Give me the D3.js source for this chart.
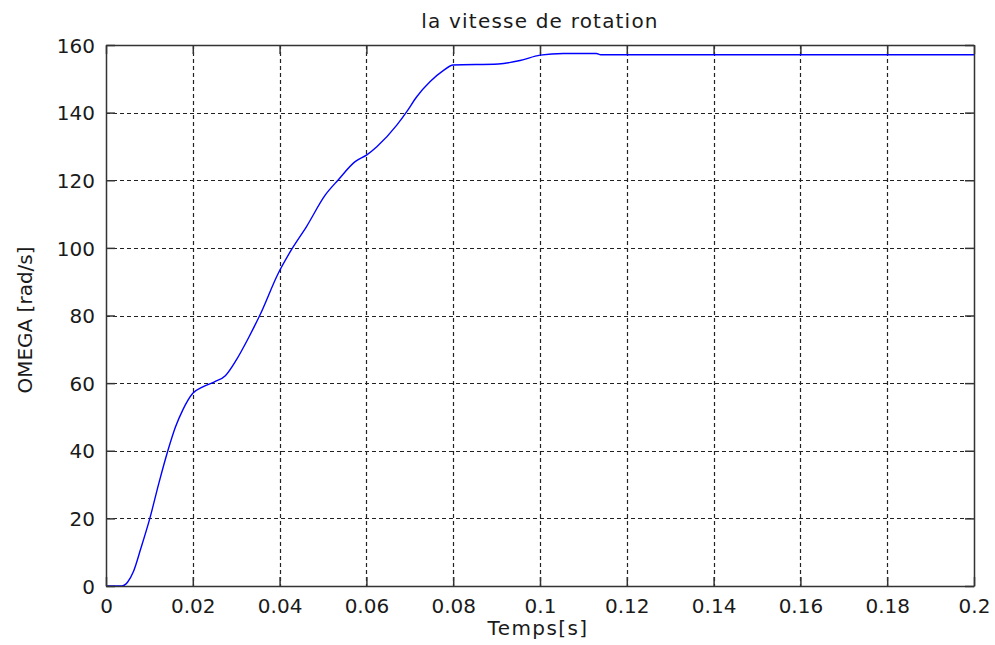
<!DOCTYPE html>
<html><head><meta charset="utf-8">
<script src="https://cdn.jsdelivr.net/npm/d3@7"></script>
<style>body{margin:0;background:#fff}svg{display:block}</style>
</head><body>
<script>
const timeS = [0, 0.0036, 0.0050, 0.0063, 0.0080, 0.0101, 0.0122, 0.0143, 0.0160, 0.0177, 0.0200, 0.0223, 0.0250, 0.0275, 0.0300, 0.0330, 0.0355, 0.0397, 0.0428, 0.0462, 0.0505, 0.0535, 0.0574, 0.0601, 0.0624, 0.0670, 0.0693, 0.0716, 0.0747, 0.0777, 0.0800, 0.0904, 0.0954, 0.1000, 0.1054, 0.1130, 0.1140, 0.2];
const omega = [0, 0, 1.2, 4.2, 11.0, 20.0, 30.5, 40.2, 47.0, 52.1, 57.0, 58.9, 60.4, 62.2, 66.8, 73.8, 80.2, 92.5, 99.6, 106.3, 115.6, 120.1, 125.5, 127.5, 129.9, 136.3, 140.3, 144.7, 149.2, 152.4, 154.1, 154.4, 155.4, 157.0, 157.5, 157.5, 157.1, 157.1];
const xTicks = [0, 0.02, 0.04, 0.06, 0.08, 0.1, 0.12, 0.14, 0.16, 0.18, 0.2];
const yTicks = [0, 20, 40, 60, 80, 100, 120, 140, 160];
const titleText = "la vitesse de rotation";
const xLabel = "Temps[s]";
const yLabel = "OMEGA [rad/s]";

const W = 995, H = 645;
const L = 106, R = 974, T = 45, B = 586;
const svg = d3.select("body").append("svg").attr("width", W).attr("height", H);
const x = d3.scaleLinear().domain([0, 0.2]).range([L, R]);
const y = d3.scaleLinear().domain([0, 160]).range([B, T]);
const font = "'DejaVu Sans', sans-serif";
const ink = "#1a1a1a";

// grid
const g = svg.append("g");
g.selectAll(".vg").data(xTicks.slice(1, -1)).enter().append("line")
  .attr("x1", d => Math.round(x(d)) + 0.5).attr("x2", d => Math.round(x(d)) + 0.5)
  .attr("y1", T).attr("y2", B)
  .attr("stroke", "#222").attr("stroke-width", 1.2).attr("stroke-dasharray", "4,3");
g.selectAll(".hg").data(yTicks.slice(1, -1)).enter().append("line")
  .attr("y1", d => Math.round(y(d)) + 0.5).attr("y2", d => Math.round(y(d)) + 0.5)
  .attr("x1", L).attr("x2", R)
  .attr("stroke", "#222").attr("stroke-width", 1.2).attr("stroke-dasharray", "4,3");

// curve
const pts = timeS.map((t, i) => [t, omega[i]]);
svg.append("path").datum(pts)
  .attr("d", d3.line().x(d => x(d[0])).y(d => y(d[1])).curve(d3.curveMonotoneX))
  .attr("fill", "none").attr("stroke", "#0000ff").attr("stroke-width", 1.4);

// axes (inward ticks, all four sides)
const tl = 9;
const axB = svg.append("g").attr("transform", `translate(0,${B})`)
  .call(d3.axisBottom(x).tickValues(xTicks).tickFormat(d3.format("~g")).tickSizeInner(-tl).tickSizeOuter(0).tickPadding(tl + 4));
const axT = svg.append("g").attr("transform", `translate(0,${T})`)
  .call(d3.axisTop(x).tickValues(xTicks).tickFormat("").tickSizeInner(-tl).tickSizeOuter(0));
const axL = svg.append("g").attr("transform", `translate(${L},0)`)
  .call(d3.axisLeft(y).tickValues(yTicks).tickSizeInner(-tl).tickSizeOuter(0).tickPadding(tl + 2));
const axR = svg.append("g").attr("transform", `translate(${R},0)`)
  .call(d3.axisRight(y).tickValues(yTicks).tickFormat("").tickSizeInner(-tl).tickSizeOuter(0));
[axB, axT, axL, axR].forEach(a => {
  a.select(".domain").attr("stroke", "#333").attr("stroke-width", 1.5);
  a.selectAll(".tick line").attr("stroke", "#333").attr("stroke-width", 1.5);
  a.selectAll("text").attr("font-family", font).attr("font-size", 20).attr("fill", ink);
});
axB.selectAll("text").attr("dy", "0.71em");
axL.selectAll("text").attr("dy", "0.36em");

// title and labels
svg.append("text").attr("x", (L + R) / 2).attr("y", 28).attr("text-anchor", "middle")
  .attr("font-family", font).attr("font-size", 20).attr("letter-spacing", 1.2).attr("fill", ink).text(titleText);
svg.append("text").attr("x", 538).attr("y", 635).attr("text-anchor", "middle")
  .attr("font-family", font).attr("font-size", 20).attr("letter-spacing", 1.4).attr("fill", ink).text(xLabel);
svg.append("text").attr("transform", "translate(32,320) rotate(-90)").attr("text-anchor", "middle")
  .attr("font-family", font).attr("font-size", 20).attr("fill", ink).text(yLabel);
</script>
</body></html>
